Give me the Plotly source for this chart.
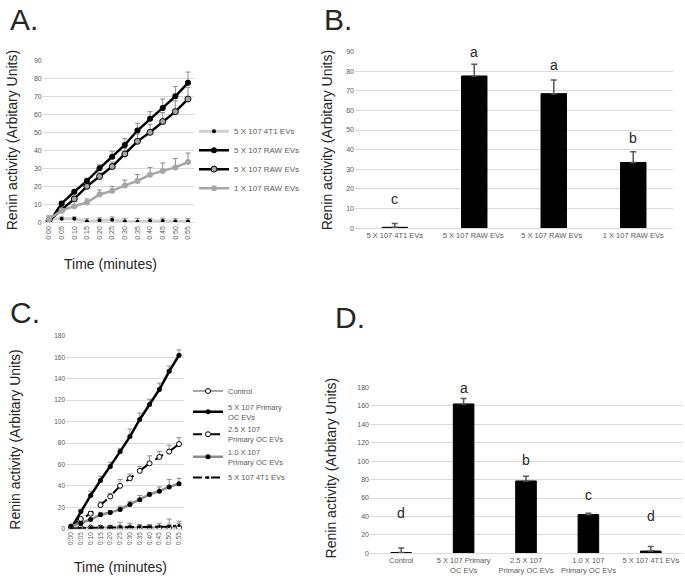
import plotly.graph_objects as go

W, H = 685, 585

# ---------------- data ----------------
times = ["0:00", "0:05", "0:10", "0:15", "0:20", "0:25", "0:30", "0:35", "0:40", "0:45", "0:50", "0:55"]

# Panel A
a_names = ["5 X 107 4T1 EVs", "5 X 107 RAW EVs", "5 X 107 RAW EVs", "1 X 107 RAW EVs"]
a_4t1 = [2, 2, 2, 0.5, 1, 1.5, 0.5, 0.3, 0.8, 0.8, 0.5, 0.5]
a_4t1_err = [1.5, 1, 1, 1.5, 1.5, 1.5, 1.5, 2, 1.5, 1.5, 1.5, 1.5]
a_raw5a = [0, 10.5, 17, 23, 30, 36.5, 43, 51, 57.5, 63.5, 70, 77.5]
a_raw5a_err = [1, 1, 1, 1.5, 2, 3, 3.5, 4, 4, 5, 5.5, 6]
a_raw5b = [1, 7, 13, 20, 25.5, 31, 38, 45, 50, 56, 61.5, 68.5]
a_raw5b_err = [1, 1, 1.5, 1.5, 2, 2.5, 3, 4, 4.5, 5, 6, 6.5]
a_raw1 = [2, 6.5, 9, 11, 15.5, 17.5, 20.5, 23, 26.5, 28.5, 30.5, 33.5]
a_raw1_err = [1.5, 1, 1, 2, 2.5, 2.5, 3, 3.5, 4, 4.5, 5, 5]

# Panel B
b_cats = ["5 X 107 4T1 EVs", "5 X 107 RAW EVs ", "5 X 107 RAW EVs  ", "1 X 107 RAW EVs"]
b_vals = [0.5, 77.5, 68.5, 33.5]
b_err = [2, 6, 7, 5.5]
b_sig = ["c", "a", "a", "b"]
b_sig_y = [15, 89.5, 83, 46]

# Panel C
c_names = ["Control", "5 X 107 Primary<br>OC EVs", "2.5 X 107<br>Primary OC EVs",
           "1.0 X 107<br>Primary OC EVs", "5 X 107 4T1 EVs"]
c_ctrl = [1, 1, 1, 1, 1, 1, 1, 1, 1, 1, 1, 1]
c_ctrl_err = [1, 1, 1, 2, 2, 5, 4, 3, 3, 4, 8, 6]
c_oc5 = [0, 16, 31, 45, 58, 72, 86, 102, 116, 130, 147, 162]
c_oc5_err = [1, 2, 4, 4, 4, 3, 7, 6, 5, 6, 5, 5]
c_oc25 = [2, 9, 14, 22, 30, 40, 47, 54, 61, 67, 72, 79]
c_oc25_err = [1, 1, 2, 3, 3, 6, 4, 4, 7, 5, 6, 6]
c_oc10 = [2, 5, 8.5, 13, 15, 18, 22.5, 27, 32, 35, 39, 42]
c_oc10_err = [1, 1, 1, 2, 2, 3, 3, 4, 2, 4, 7, 5]
c_4t1 = [0, 0.5, 1, 1, 1, 1.5, 1.5, 1.5, 1.5, 2, 2, 3]
c_4t1_err = [0.5, 0.5, 0.5, 1, 1, 1, 1, 1, 1, 1, 2, 2]

# Panel D
d_cats = ["Control", "5 X 107 Primary<br>OC EVs", "2.5 X 107<br>Primary OC EVs",
          "1.0 X 107<br>Primary OC EVs", "5 X 107 4T1 EVs"]
d_vals = [0.8, 162, 78.5, 42, 2.5]
d_err = [5, 6, 5, 1.5, 5]
d_sig = ["d", "a", "b", "c", "d"]
d_sig_y = [44, 179, 101, 63, 41]

# ---------------- style ----------------
TICK = "#595959"
GRID = "#d9d9d9"
GRAY = "#a6a6a6"
LGRAY = "#d0d0d0"
EB = "#8c8c8c"
FONT = "Liberation Sans"


def px_x(p):
    return p / W


def px_y(p):
    return 1 - p / H


def err(vals):
    return dict(type="data", symmetric=False, array=vals, arrayminus=[0] * len(vals),
                color=EB, thickness=1, width=2.5)


fig = go.Figure()

# Panel A traces
fig.add_trace(go.Scatter(x=times, y=a_4t1, name=a_names[0], mode="lines+markers",
                         line=dict(color=LGRAY, width=3), marker=dict(color="black", size=4),
                         error_y=err(a_4t1_err), xaxis="x", yaxis="y", legend="legend"))
fig.add_trace(go.Scatter(x=times, y=a_raw5a, name=a_names[1], mode="lines+markers",
                         line=dict(color="black", width=2.5), marker=dict(color="black", size=6),
                         error_y=err(a_raw5a_err), xaxis="x", yaxis="y", legend="legend"))
fig.add_trace(go.Scatter(x=times, y=a_raw5b, name=a_names[2], mode="lines+markers",
                         line=dict(color="black", width=2.5),
                         marker=dict(color=GRAY, size=6, line=dict(color="black", width=1)),
                         error_y=err(a_raw5b_err), xaxis="x", yaxis="y", legend="legend"))
fig.add_trace(go.Scatter(x=times, y=a_raw1, name=a_names[3], mode="lines+markers",
                         line=dict(color=GRAY, width=2.5), marker=dict(color=GRAY, size=6),
                         error_y=err(a_raw1_err), xaxis="x", yaxis="y", legend="legend"))

# Panel B
fig.add_trace(go.Bar(x=b_cats, y=b_vals, marker=dict(color="black", line=dict(color="black", width=1)),
                     width=0.32, showlegend=False,
                     error_y=dict(type="data", symmetric=False, array=b_err, arrayminus=[0] * 4,
                                  color="#595959", thickness=1.5, width=3),
                     xaxis="x2", yaxis="y2"))

# Panel C traces
fig.add_trace(go.Scatter(x=times, y=c_ctrl, name=c_names[0], mode="lines+markers",
                         line=dict(color=GRAY, width=2),
                         marker=dict(color="white", size=5, line=dict(color="black", width=1)),
                         error_y=err(c_ctrl_err), xaxis="x3", yaxis="y3", legend="legend2"))
fig.add_trace(go.Scatter(x=times, y=c_oc5, name=c_names[1], mode="lines+markers",
                         line=dict(color="black", width=2.5), marker=dict(color="black", size=5),
                         error_y=err(c_oc5_err), xaxis="x3", yaxis="y3", legend="legend2"))
fig.add_trace(go.Scatter(x=times, y=c_oc25, name=c_names[2], mode="lines+markers",
                         line=dict(color="black", width=2, dash="dash"),
                         marker=dict(color="white", size=5, line=dict(color="black", width=1)),
                         error_y=err(c_oc25_err), xaxis="x3", yaxis="y3", legend="legend2"))
fig.add_trace(go.Scatter(x=times, y=c_oc10, name=c_names[3], mode="lines+markers",
                         line=dict(color="#8c8c8c", width=2.5), marker=dict(color="black", size=5),
                         error_y=err(c_oc10_err), xaxis="x3", yaxis="y3", legend="legend2"))
fig.add_trace(go.Scatter(x=times, y=c_4t1, name=c_names[4], mode="lines+markers",
                         line=dict(color="black", width=2, dash="dashdot"),
                         marker=dict(color="black", size=3),
                         error_y=err(c_4t1_err), xaxis="x3", yaxis="y3", legend="legend2"))

# Panel D
fig.add_trace(go.Bar(x=d_cats, y=d_vals, marker=dict(color="black", line=dict(color="black", width=1)),
                     width=0.33, showlegend=False,
                     error_y=dict(type="data", symmetric=False, array=d_err, arrayminus=[0] * 5,
                                  color="#595959", thickness=1.5, width=3),
                     xaxis="x4", yaxis="y4"))

smallfont = dict(family=FONT, size=7, color=TICK)
catfont = dict(family=FONT, size=7.5, color=TICK)


def yax(domain, rng, dtick, anchor, font):
    return dict(domain=domain, range=rng, dtick=dtick, anchor=anchor, showgrid=True,
                gridcolor=GRID, gridwidth=1, zeroline=False, showline=False, ticks="",
                tickfont=font, fixedrange=True)


def xax(domain, anchor, font, rng, angle=None):
    d = dict(domain=domain, anchor=anchor, type="category", showgrid=False, zeroline=False,
             showline=True, linecolor=GRID, linewidth=1, ticks="", tickfont=font,
             range=rng, fixedrange=True)
    if angle is not None:
        d["tickangle"] = angle
    return d


fig.update_layout(
    width=W, height=H, margin=dict(l=0, r=0, t=0, b=0),
    paper_bgcolor="white", plot_bgcolor="white",
    font=dict(family=FONT, color=TICK),
    xaxis=xax([px_x(42.7), px_x(194.3)], "y", smallfont, [-0.5, 11.5], -90),
    yaxis=yax([px_y(221), px_y(57)], [0, 90], 10, "x", smallfont),
    xaxis2=xax([px_x(355), px_x(673)], "y2", catfont, [-0.5, 3.5]),
    yaxis2=yax([px_y(227), px_y(48)], [0, 90], 10, "x2", smallfont),
    xaxis3=xax([px_x(66.1), px_x(183.9)], "y3", dict(family=FONT, size=6.5, color=TICK), [-0.5, 11.5], -90),
    yaxis3=yax([px_y(531), px_y(336)], [0, 180], 20, "x3", dict(family=FONT, size=6.5, color=TICK)),
    xaxis4=xax([px_x(370), px_x(682)], "y4", catfont, [-0.5, 4.5]),
    yaxis4=yax([px_y(556), px_y(388)], [0, 180], 20, "x4", smallfont),
    legend=dict(x=px_x(194), y=px_y(114), xanchor="left", yanchor="top",
                font=dict(family=FONT, size=8, color=TICK), bgcolor="rgba(0,0,0,0)",
                itemwidth=30, tracegroupgap=0),
    legend2=dict(x=px_x(188), y=px_y(377), xanchor="left", yanchor="top",
                 font=dict(family=FONT, size=7.5, color=TICK), bgcolor="rgba(0,0,0,0)",
                 itemwidth=30, tracegroupgap=0),
    showlegend=True,
)

ann = []
title_font = dict(family=FONT, size=14, color="#262626")
letter_font = dict(family=FONT, size=30, color="#262626")
ylab = "Renin activity (Arbitary Units)"
for (x, y) in [(12, 138), (327, 138), (15, 441), (331, 470)]:
    ann.append(dict(x=px_x(x), y=px_y(y), xref="paper", yref="paper", text=ylab, textangle=-90,
                    showarrow=False, font=title_font, xanchor="center", yanchor="middle"))
for (x, y) in [(110, 263), (120, 570)]:
    ann.append(dict(x=px_x(x), y=px_y(y), xref="paper", yref="paper", text="Time (minutes)",
                    showarrow=False, font=title_font, xanchor="center", yanchor="middle"))
for (t, x, y) in [("A.", 24, 16), ("B.", 338, 16), ("C.", 25, 312), ("D.", 350, 317)]:
    ann.append(dict(x=px_x(x), y=px_y(y), xref="paper", yref="paper", text=t,
                    showarrow=False, font=letter_font, xanchor="center", yanchor="middle"))
for c, s, yy in zip(b_cats, b_sig, b_sig_y):
    ann.append(dict(x=c, y=yy, xref="x2", yref="y2", text=s, showarrow=False,
                    font=dict(family=FONT, size=14, color="#262626")))
for c, s, yy in zip(d_cats, d_sig, d_sig_y):
    ann.append(dict(x=c, y=yy, xref="x4", yref="y4", text=s, showarrow=False,
                    font=dict(family=FONT, size=14, color="#262626")))
fig.update_layout(annotations=ann)

fig.write_html("out.html", config={"displayModeBar": False},
               post_script="document.body.style.margin='0px';")
